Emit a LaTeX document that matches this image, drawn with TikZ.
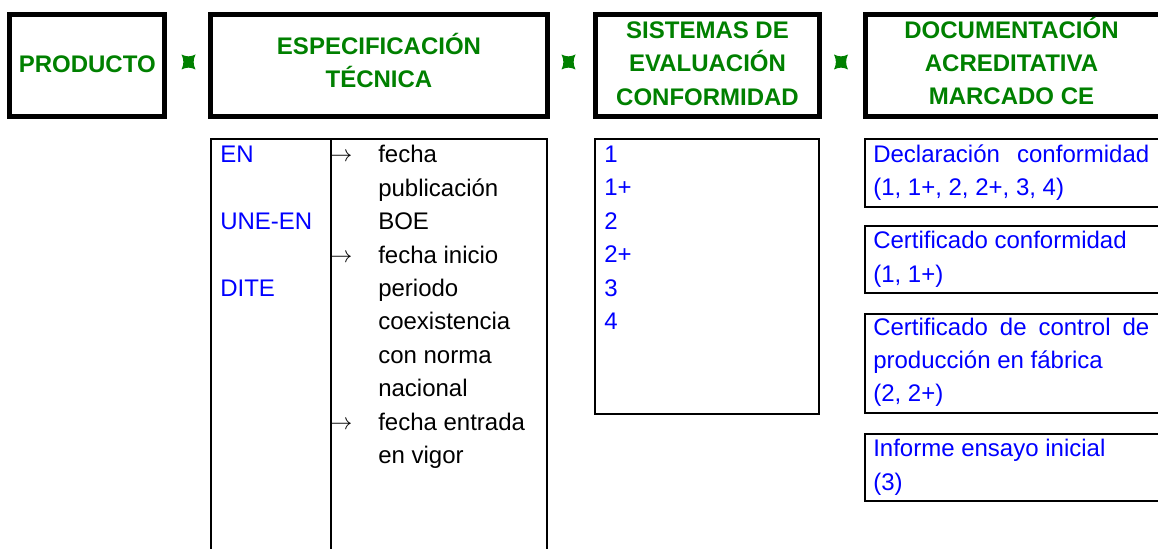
\documentclass[tikz,border=0pt]{standalone}
\usepackage{fontspec}
\setmainfont{Liberation Sans}
\definecolor{verde}{RGB}{0,128,0}
\definecolor{azul}{RGB}{0,0,255}
\tikzset{
  caja/.style={draw, line width=3.75pt, inner sep=0pt, minimum height=76.5pt},
  titulo/.style={text=verde, align=center, inner sep=0pt, font=\fontsize{18}{25.1}\selectfont\bfseries},
  marco/.style={line width=1.3pt},
  texto/.style={anchor=base west, inner sep=0pt, font=\fontsize{18}{25.1}\selectfont},
  estrella/.pic={\fill[verde] (-7,-7.5) .. controls (-2,-5) and (2,-5) .. (7,-7.5) .. controls (4.5,-2.5) and (4.5,2.5) .. (7,7.5) .. controls (2,5) and (-2,5) .. (-7,7.5) .. controls (-4.5,2.5) and (-4.5,-2.5) .. (-7,-7.5) -- cycle;}
}
\begin{document}
\begin{tikzpicture}[x=0.75pt,y=-0.75pt]
\useasboundingbox (0,0) rectangle (1158,549);
% cabecera
\node[caja, minimum width=116.6pt] (prod) at (87.25,65.5) {};
\node[caja, minimum width=252.75pt] (espec) at (379,65.5) {};
\node[caja, minimum width=168pt] (sist) at (707.5,65.5) {};
\node[caja, minimum width=222.4pt] (docu) at (1013.75,65.5) {};
\node[titulo] (tprod) at (87.25,63.8) {PRODUCTO};
\node[titulo] (tespec) at (379,60.3) {ESPECIFICACIÓN\\TÉCNICA};
\node[titulo] (tsist) at (707.5,63.5) {SISTEMAS DE\\EVALUACIÓN\\CONFORMIDAD};
\node[titulo] (tdocu) at (1011.5,61) {DOCUMENTACIÓN\\ACREDITATIVA\\MARCADO CE};
\pic (e1) at (188.5,62) {estrella};
\pic (e2) at (568.5,62) {estrella};
\pic (e3) at (841,62) {estrella};
% marcos inferiores
\draw[marco] (211,552) -- (211,139) -- (547,139) -- (547,552);
\draw[marco] (331,139) -- (331,552);
\draw[marco] (595,139) rectangle (819,414);
\foreach \a/\b in {139/207,226/293,314/413,434/501}
  \draw[marco] (1165,\a) -- (865,\a) -- (865,\b) -- (1165,\b);
% especificacion
\foreach \t/\i in {EN/1, UNE-EN/3, DITE/5}
  \node[texto, text=azul] (n\i) at (220,{163+33.4*(\i-1)}) {\t};
\foreach \i in {1,4,9}
  \node[texto] (a\i) at (329,{162+33.4*(\i-1)}) {$\rightarrow$};
\foreach \t [count=\i] in {fecha, publicación, BOE, fecha inicio, periodo, coexistencia, con norma, nacional, fecha entrada, en vigor}
  \node[texto] (f\i) at (378,{163+33.4*(\i-1)}) {\t};
% sistemas
\foreach \t [count=\i] in {1, 1+, 2, 2+, 3, 4}
  \node[texto, text=azul] (s\i) at (604,{162.5+33.4*(\i-1)}) {\t};
% documentacion
\node[texto, text=azul] (d1) at (873,162.5) {\makebox[207pt][s]{Declaración conformidad}};
\node[texto, text=azul] (d2) at (873,196) {(1, 1+, 2, 2+, 3, 4)};
\node[texto, text=azul] (c1) at (873,248.5) {Certificado conformidad};
\node[texto, text=azul] (c2) at (873,282) {(1, 1+)};
\node[texto, text=azul] (p1) at (873,335) {\makebox[207pt][s]{Certificado de control de}};
\node[texto, text=azul] (p2) at (873,368.5) {producción en fábrica};
\node[texto, text=azul] (p3) at (873,402) {(2, 2+)};
\node[texto, text=azul] (i1) at (873,456.5) {Informe ensayo inicial};
\node[texto, text=azul] (i2) at (873,490) {(3)};
\end{tikzpicture}
\end{document}
